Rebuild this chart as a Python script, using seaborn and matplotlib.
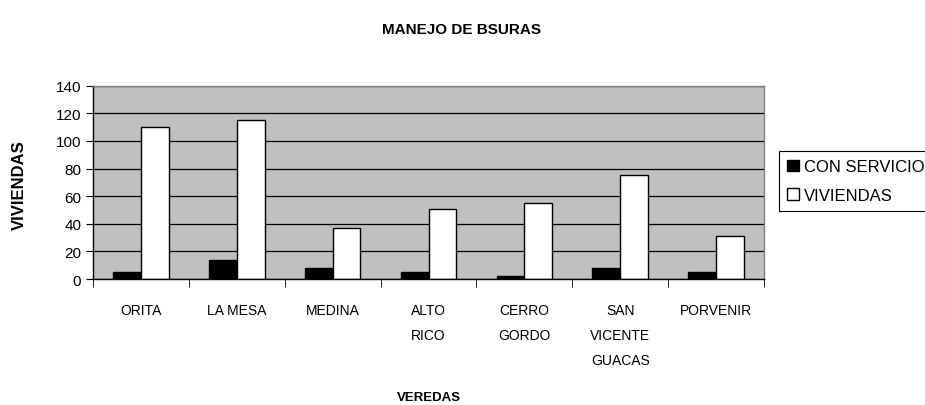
import numpy as np
import pandas as pd
import matplotlib
matplotlib.use('Agg')
import matplotlib.pyplot as plt
import seaborn as sns

# data
veredas = ['ORITA', 'LA MESA', 'MEDINA', 'ALTO\nRICO', 'CERRO\nGORDO',
           'SAN\nVICENTE\nGUACAS', 'PORVENIR']
con_servicio = [5, 14, 8, 5, 2, 8, 5]
viviendas = [110, 115, 37, 51, 55, 75, 31]
series = ['CON SERVICIO', 'VIVIENDAS']

df = pd.DataFrame({
    'vereda': veredas * 2,
    'valor': con_servicio + viviendas,
    'serie': [series[0]] * len(veredas) + [series[1]] * len(veredas),
})

sns.set_style('white')
plt.rcParams['font.family'] = ['Liberation Sans', 'DejaVu Sans']
plt.rcParams['text.color'] = 'black'
plt.rcParams['axes.labelcolor'] = 'black'
plt.rcParams['xtick.color'] = 'black'
plt.rcParams['ytick.color'] = 'black'

fig = plt.figure(figsize=(9.25, 4.06), dpi=100)
ax = fig.add_axes([93 / 925, 1 - 280 / 406, (764 - 93) / 925, (280 - 86.7) / 406])

sns.barplot(data=df, x='vereda', y='valor', hue='serie', order=veredas,
            hue_order=series, palette=['black', 'white'], edgecolor='black',
            linewidth=1, width=0.58, gap=0, ax=ax)

ax.set_facecolor('#C0C0C0')
ax.set_ylim(0, 140)
ax.set_yticks(np.arange(0, 141, 20))
ax.yaxis.grid(True, color='black', linewidth=0.9)
ax.set_axisbelow(True)
for s in ['top', 'right']:
    ax.spines[s].set_color('#808080')
    ax.spines[s].set_linewidth(1)
for s in ['left', 'bottom']:
    ax.spines[s].set_color('black')
    ax.spines[s].set_linewidth(1)

ax.set_xlim(-0.5, len(veredas) - 0.5)
ax.set_xticks(np.arange(-0.5, len(veredas), 1), minor=True)
ax.tick_params(axis='x', which='major', length=0, pad=17)
ax.tick_params(axis='x', which='minor', length=6, direction='out', color='black', bottom=True)
ax.tick_params(axis='y', length=5, direction='out', color='black', left=True, labelsize=11)
for lab in ax.get_xticklabels():
    lab.set_fontsize(10)
    lab.set_linespacing(2.0)

ax.set_xlabel('VEREDAS', fontsize=9.5, fontweight='bold')
ax.xaxis.set_label_coords(0.5, (280 - 398) / 193.3)
ax.xaxis.label.set_verticalalignment('center')
ax.set_ylabel('VIVIENDAS', fontsize=12, fontweight='bold')
ax.yaxis.set_label_coords((27 - 93) / 671, (280 - 185) / 193.3)

fig.text(462 / 925, 1 - 30 / 406, 'MANEJO DE BSURAS', ha='center', va='center',
         fontsize=11, fontweight='bold')

leg = ax.legend(loc='upper left', bbox_to_anchor=(779 / 925, 1 - 152 / 406),
                bbox_transform=fig.transFigure, borderaxespad=0, frameon=True,
                fancybox=False, edgecolor='black', framealpha=1,
                handlelength=0.7, handleheight=0.7, handletextpad=0.3,
                borderpad=0.5, labelspacing=0.8, prop={'size': 12})
leg.get_frame().set_linewidth(0.8)
leg.set_title(None)

fig.savefig('out.png', dpi=100)
